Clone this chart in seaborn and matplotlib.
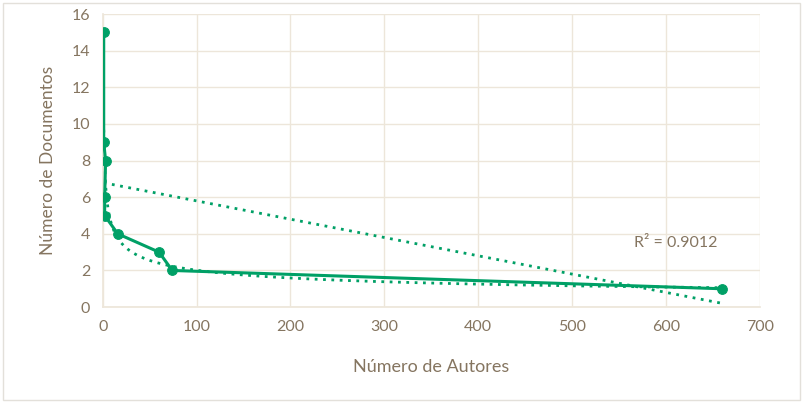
import numpy as np
import pandas as pd
import matplotlib
matplotlib.use('Agg')
import matplotlib.pyplot as plt
import seaborn as sns
from matplotlib.patches import Rectangle

autores = [1, 1, 3, 2, 2, 16, 60, 74, 660]
documentos = [15, 9, 8, 6, 5, 4, 3, 2, 1]
r2_label = 'R² = 0.9012'

green = '#00A066'
txt = '#857560'
grid_c = '#EDE6DA'

sns.set_theme(style='white')
plt.rcParams['font.family'] = ['Lato', 'DejaVu Sans']

df = pd.DataFrame({'autores': autores, 'documentos': documentos})

fig = plt.figure(figsize=(8.03, 4.03), dpi=100)
ax = fig.add_axes([0.128, 0.238, 0.818, 0.727])

# estimator=None so repeated x values are not averaged
sns.lineplot(data=df, x='autores', y='documentos', sort=False, estimator=None,
             color=green, linewidth=2.2, marker='o', markersize=7,
             markeredgecolor=green, ax=ax, zorder=3)

# linear trend
x = np.array(autores, dtype=float)
y = np.array(documentos, dtype=float)
m, b = np.polyfit(x, y, 1)
xl = np.array([x.min(), x.max()])
ax.plot(xl, m * xl + b, color=green, linestyle=(0, (1, 2)), linewidth=2, zorder=2)

# power trend
pb, pa = np.polyfit(np.log(x), np.log(y), 1)
xp = np.linspace(x.min(), x.max(), 600)
ax.plot(xp, np.exp(pa) * xp ** pb, color=green, linestyle=(0, (1, 2)), linewidth=2, zorder=2)

ax.text(566, 3.5, r2_label, color=txt, fontsize=11.5, va='center')

ax.set_xlim(0, 700)
ax.set_ylim(0, 16)
ax.set_xticks(range(0, 701, 100))
ax.set_yticks(range(0, 17, 2))
ax.grid(True, color=grid_c, linewidth=1)
ax.set_axisbelow(True)
for s in ['top', 'right']:
    ax.spines[s].set_visible(False)
for s in ['left', 'bottom']:
    ax.spines[s].set_color(grid_c)
ax.tick_params(colors=txt, labelsize=11.5, length=0, pad=9)
ax.set_xlabel('Número de Autores', color=txt, fontsize=13, labelpad=18)
ax.set_ylabel('Número de Documentos', color=txt, fontsize=12.5, labelpad=11)

fig.patches.append(Rectangle((0.004, 0.008), 0.992, 0.985, transform=fig.transFigure,
                             fill=False, edgecolor='#E3E0DA', linewidth=1))

fig.savefig('out.png', dpi=100)
